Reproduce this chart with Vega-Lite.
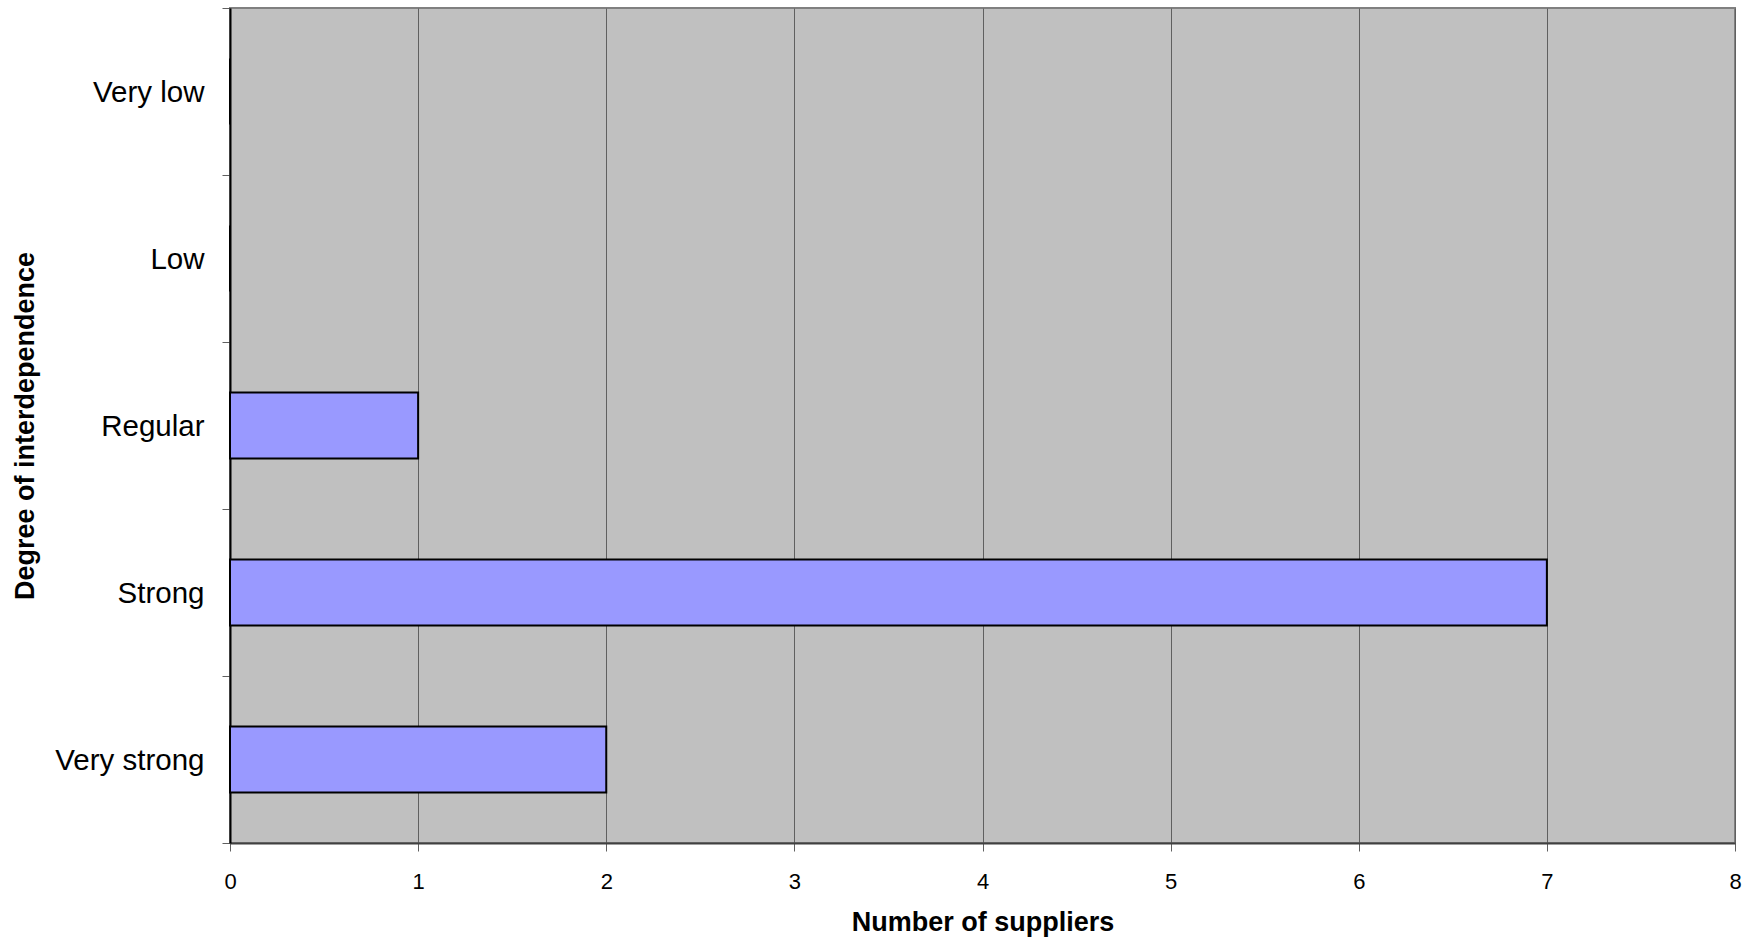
{
  "$schema": "https://vega.github.io/schema/vega-lite/v6.json",
  "width": 1505,
  "height": 835,
  "autosize": {"type": "none"},
  "padding": {"left": 230, "top": 8, "right": 19, "bottom": 98},
  "background": "white",
  "config": {
    "font": "Liberation Sans",
    "view": {"fill": "#C0C0C0", "stroke": "#808080", "strokeWidth": 2}
  },
  "data": {
    "values": [
      {"degree": "Very low", "n": 0},
      {"degree": "Low", "n": 0},
      {"degree": "Regular", "n": 1},
      {"degree": "Strong", "n": 7},
      {"degree": "Very strong", "n": 2}
    ]
  },
  "mark": {"type": "bar", "fill": "#9999FF", "stroke": "black", "strokeWidth": 2, "height": {"band": 0.395}},
  "encoding": {
    "y": {
      "field": "degree",
      "type": "nominal",
      "sort": ["Very low", "Low", "Regular", "Strong", "Very strong"],
      "scale": {"paddingInner": 0, "paddingOuter": 0},
      "axis": {
        "title": "Degree of interdependence",
        "titleFont": "Liberation Sans",
        "titleFontSize": 27,
        "titleFontWeight": "bold",
        "titleColor": "black",
        "titleX": -197,
        "titleBaseline": "alphabetic",
        "labelFont": "Liberation Sans",
        "labelFontSize": 29.5,
        "labelColor": "black",
        "labelPadding": 18,
        "labelOffset": 1,
        "tickBand": "extent",
        "tickSize": 8,
        "tickColor": "#606060",
        "domainColor": "black",
        "domainWidth": 2,
        "grid": false
      }
    },
    "x": {
      "field": "n",
      "type": "quantitative",
      "scale": {"domain": [0, 8], "nice": false},
      "axis": {
        "title": "Number of suppliers",
        "titleFont": "Liberation Sans",
        "titleFontSize": 27,
        "titleFontWeight": "bold",
        "titleColor": "black",
        "titleY": 87,
        "titleBaseline": "alphabetic",
        "labelFont": "Liberation Sans",
        "labelFontSize": 22,
        "labelColor": "black",
        "labelPadding": 20,
        "labelOverlap": false,
        "labelFlush": false,
        "values": [0, 1, 2, 3, 4, 5, 6, 7, 8],
        "tickSize": 8,
        "tickColor": "#606060",
        "domainColor": "#404040",
        "domainWidth": 2,
        "grid": true,
        "gridColor": "#606060",
        "gridWidth": 1,
        "gridOpacity": 1
      }
    }
  }
}
